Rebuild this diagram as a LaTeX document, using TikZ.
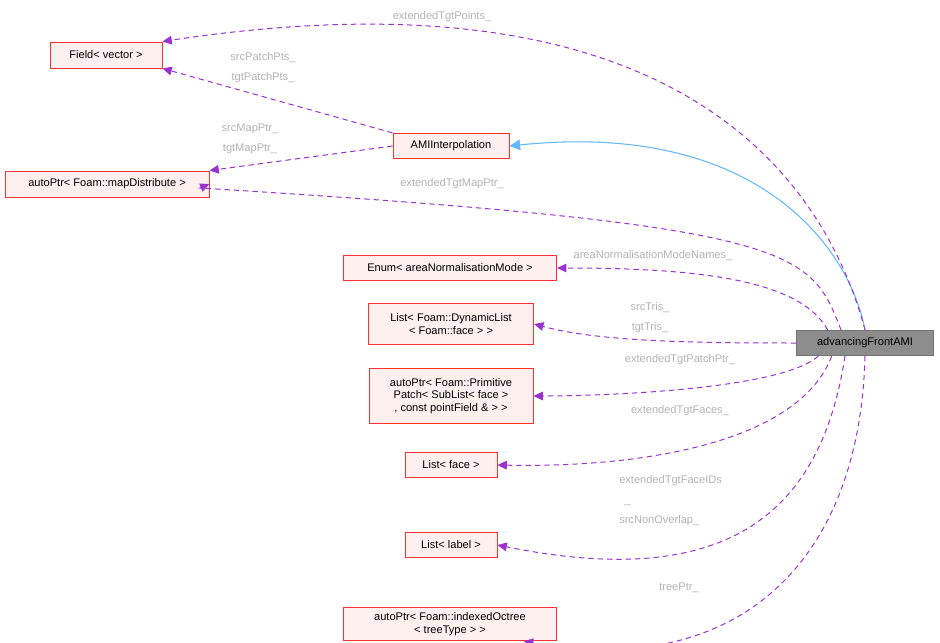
\documentclass[tikz,border=0pt]{standalone}
\usepackage{fontspec}
\setmainfont{Liberation Sans}
\usetikzlibrary{arrows.meta}
\definecolor{dv}{HTML}{9A32CD}
\definecolor{bx}{HTML}{FF3030}
\definecolor{bf}{HTML}{FFF0F0}
\definecolor{bl}{HTML}{63B8FF}
\begin{document}
\begin{tikzpicture}[x=0.75pt,y=-0.75pt,
 box/.style={draw=bx,fill=bf,line width=0.7pt,inner sep=0pt,font=\fontsize{8.3}{9.6}\selectfont,align=center},
 dep/.style={draw=dv,dashed,dash pattern=on 4pt off 3pt,line width=0.75pt,-{Triangle[length=7pt,width=6.5pt,fill=dv]}},
 lbl/.style={text=black!30,font=\fontsize{8.3}{9.6}\selectfont,inner sep=0pt}]
\useasboundingbox (0,0) rectangle (940,643);
\node[box,minimum width=84pt,minimum height=19.5pt] (field) at (106,55) {Field< vector >};
\node[box,minimum width=87pt,minimum height=19pt] (ami) at (451,146) {AMIInterpolation};
\node[box,minimum width=153pt,minimum height=19.5pt] (map) at (107,184) {autoPtr< Foam::mapDistribute >};
\node[box,minimum width=160pt,minimum height=19pt] (enum) at (450,268) {Enum< areaNormalisationMode >};
\node[box,minimum width=124pt,minimum height=31pt] (dyn) at (451,324) {List< Foam::DynamicList\\< Foam::face > >};
\node[box,minimum width=123pt,minimum height=41pt] (prim) at (451,396) {autoPtr< Foam::Primitive\\Patch< SubList< face >\\, const pointField \& > >};
\node[box,minimum width=69pt,minimum height=19pt] (face) at (451,465) {List< face >};
\node[box,minimum width=69pt,minimum height=19pt] (label) at (451,545) {List< label >};
\node[box,minimum width=160pt,minimum height=25pt] (oct) at (450,624) {autoPtr< Foam::indexedOctree\\< treeType > >};
\node[box,draw=black!55,fill=black!45,minimum width=103pt,minimum height=19pt] (adv) at (865,343) {advancingFrontAMI};
% blue inheritance
\draw[draw=bl,line width=0.8pt,-{Triangle[length=8pt,width=8pt,fill=bl]}] (adv.north) .. controls (850,250) and (760,120) .. (ami.east);
% dependencies
\draw[dep] (adv.north) .. controls (830,200) and (700,-40) .. (field.north east);
\node[lbl] at (442,17) {extendedTgtPoints\_};
\draw[dep] (ami.north west) -- (field.south east);
\node[lbl] at (263,58) {srcPatchPts\_};
\node[lbl] at (263,78) {tgtPatchPts\_};
\draw[dep] (ami.west) -- (map.north east);
\node[lbl] at (250,129) {srcMapPtr\_};
\node[lbl] at (250,149) {tgtMapPtr\_};
\draw[dep] ([xshift=-18]adv.north) .. controls (810,250) and (800,225) .. (200,188) -- (map.east);
\node[lbl] at (452,184) {extendedTgtMapPtr\_};
\draw[dep] ([xshift=-28]adv.north) .. controls (800,280) and (700,268) .. (enum.east);
\node[lbl] at (653,256) {areaNormalisationModeNames\_};
\draw[dep] (adv.west) .. controls (700,343) and (600,342) .. (dyn.east);
\node[lbl] at (650,308) {srcTris\_};
\node[lbl] at (650,328) {tgtTris\_};
\draw[dep] ([xshift=-35]adv.south) .. controls (780,390) and (600,396) .. (prim.east);
\node[lbl] at (680,360) {extendedTgtPatchPtr\_};
\draw[dep] ([xshift=-25]adv.south) .. controls (800,440) and (650,468) .. (face.east);
\node[lbl] at (680,411) {extendedTgtFaces\_};
\draw[dep] ([xshift=-15]adv.south) .. controls (820,520) and (720,590) .. (label.east);
\node[lbl,anchor=west] at (619,481) {extendedTgtFaceIDs};
\node[lbl,anchor=west] at (624,505) {\_};
\node[lbl,anchor=west] at (619,521) {srcNonOverlap\_};
\draw[dep] (adv.south) .. controls (860,560) and (740,680) .. ([xshift=-25]oct.south east);
\node[lbl] at (679,588) {treePtr\_};
\end{tikzpicture}
\end{document}
